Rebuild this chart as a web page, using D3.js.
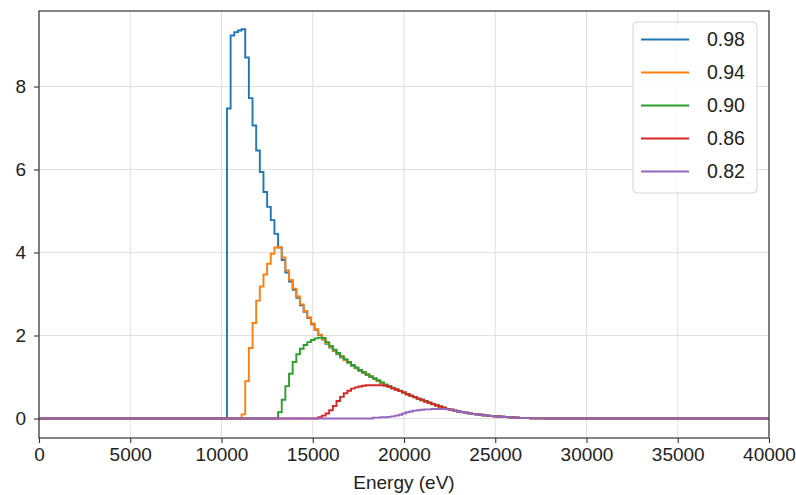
<!DOCTYPE html>
<html>
<head>
<meta charset="utf-8">
<script src="https://cdnjs.cloudflare.com/ajax/libs/d3/7.8.5/d3.min.js"></script>
<style>
  body { margin: 0; background: #fff; }
  svg text { font-family: "Liberation Sans", Arial, sans-serif; fill: #222; }
</style>
</head>
<body>
<div id="chart"></div>
<script>
// histogram bins are 200 eV wide, each series lists its non-zero bins from a start energy
const binWidth = 200;
const energyRange = [0, 40000];
const xTicks = [0, 5000, 10000, 15000, 20000, 25000, 30000, 35000, 40000];
const yTicks = [0, 2, 4, 6, 8];
const labels = ['0.98', '0.94', '0.90', '0.86', '0.82'];
const colors = ['#1f77b4', '#ff7f0e', '#2ca02c', '#d62728', '#9467bd'];
const starts = [10300, 11100, 13100, 15300, 18300];

const counts098 = [7.47, 9.23, 9.31, 9.35, 9.38, 8.70, 7.72, 7.06, 6.46, 5.94, 5.46, 5.10, 4.78, 4.45, 4.12,
  3.82, 3.52, 3.30, 3.10, 2.91, 2.73, 2.57, 2.42, 2.27, 2.14, 2.01, 1.90,
  1.80, 1.71, 1.63, 1.55, 1.47, 1.40, 1.34, 1.27, 1.21, 1.15, 1.10, 1.05, 1.00, 0.95, 0.90, 0.85, 0.80,
  0.76, 0.73, 0.69, 0.66, 0.62, 0.58, 0.54, 0.51, 0.47, 0.44, 0.41, 0.38, 0.34, 0.31, 0.28, 0.25, 0.23,
  0.21, 0.19, 0.17, 0.15, 0.14, 0.125, 0.11, 0.10, 0.09, 0.08, 0.07, 0.062, 0.055, 0.048, 0.04, 0.034,
  0.028, 0.023, 0.019, 0.015, 0.012, 0.009, 0.007, 0.005, 0.003, 0.002];
const counts094 = [0.10, 0.90, 1.70, 2.30, 2.84, 3.18, 3.47, 3.73, 3.97, 4.12, 4.13,
  3.88, 3.57, 3.34, 3.13, 2.94, 2.75, 2.59, 2.44, 2.29, 2.15, 2.02, 1.91,
  1.81, 1.72, 1.64, 1.56, 1.48, 1.41, 1.35, 1.28, 1.22, 1.16, 1.11, 1.06, 1.01, 0.96, 0.91, 0.86, 0.81,
  0.77, 0.73, 0.70, 0.66, 0.62, 0.58, 0.55, 0.51, 0.48, 0.44, 0.41, 0.38, 0.35, 0.31, 0.28, 0.26, 0.23,
  0.21, 0.19, 0.17, 0.155, 0.14, 0.125, 0.11, 0.10, 0.09, 0.08, 0.07, 0.062, 0.055, 0.048, 0.041, 0.034,
  0.028, 0.023, 0.019, 0.015, 0.012, 0.009, 0.007, 0.005, 0.003, 0.002];
const counts090 = [0.15, 0.45, 0.78, 1.08, 1.36, 1.55, 1.68, 1.77, 1.84, 1.89, 1.93, 1.95, 1.94,
  1.84, 1.75, 1.66, 1.58, 1.50, 1.43, 1.36, 1.29, 1.23, 1.17, 1.12, 1.07, 1.02, 0.97, 0.92, 0.87, 0.82,
  0.78, 0.74, 0.70, 0.67, 0.63, 0.59, 0.55, 0.52, 0.48, 0.45, 0.42, 0.38, 0.35, 0.32, 0.29, 0.26, 0.23,
  0.21, 0.19, 0.17, 0.155, 0.14, 0.125, 0.11, 0.10, 0.09, 0.08, 0.07, 0.062, 0.055, 0.048, 0.041, 0.034,
  0.028, 0.023, 0.019, 0.015, 0.012, 0.009, 0.007, 0.005, 0.003, 0.002];
const counts086 = [0.03, 0.07, 0.12, 0.20, 0.30, 0.42, 0.52, 0.61, 0.67, 0.72, 0.75, 0.77, 0.79, 0.80,
  0.80, 0.80, 0.80, 0.80, 0.79,
  0.77, 0.73, 0.70, 0.66, 0.63, 0.59, 0.55, 0.52, 0.48, 0.45, 0.41, 0.38, 0.35, 0.32, 0.29, 0.26, 0.23,
  0.21, 0.19, 0.17, 0.155, 0.14, 0.125, 0.11, 0.10, 0.09, 0.08, 0.07, 0.062, 0.055, 0.048, 0.041, 0.034,
  0.028, 0.023, 0.019, 0.015, 0.012, 0.009, 0.007, 0.005, 0.003, 0.002];
const counts082 = [0.02, 0.02, 0.03, 0.03, 0.04, 0.05, 0.07, 0.09, 0.12, 0.15, 0.17, 0.19, 0.20, 0.21,
  0.22, 0.22, 0.23, 0.23, 0.23, 0.23, 0.22, 0.21, 0.19,
  0.17, 0.155, 0.14, 0.125, 0.11, 0.10, 0.09, 0.08, 0.07, 0.062, 0.055, 0.048, 0.041, 0.034,
  0.028, 0.023, 0.019, 0.015, 0.012, 0.009, 0.007, 0.005, 0.003, 0.002];
const counts = [counts098, counts094, counts090, counts086, counts082];

const width = 796;
const height = 495;
const margin = {left: 39, right: 27, top: 11, bottom: 57};

const svg = d3.select('#chart').append('svg')
  .attr('width', width)
  .attr('height', height);

const xScale = d3.scaleLinear().domain(energyRange).range([margin.left, width - margin.right]);
const yScale = d3.scaleLinear().domain([-0.47, 9.82]).range([height - margin.bottom, margin.top]);

// GRID
const grid = svg.append('g').attr('class', 'grid');
grid.selectAll('.gx').data(xTicks).enter().append('line')
  .attr('x1', d => xScale(d)).attr('x2', d => xScale(d))
  .attr('y1', yScale.range()[0]).attr('y2', yScale.range()[1])
  .attr('stroke', '#dcdcdc').attr('stroke-width', 0.9);
grid.selectAll('.gy').data(yTicks).enter().append('line')
  .attr('x1', xScale.range()[0]).attr('x2', xScale.range()[1])
  .attr('y1', d => yScale(d)).attr('y2', d => yScale(d))
  .attr('stroke', '#dcdcdc').attr('stroke-width', 0.9);

// STEP LINES
const stepLine = d3.line().x(d => xScale(d[0])).y(d => yScale(d[1])).curve(d3.curveStepAfter);
counts.forEach((values, i) => {
  const start = starts[i];
  const pts = [[energyRange[0], 0]];
  values.forEach((v, k) => pts.push([start + k * binWidth, v]));
  pts.push([start + values.length * binWidth, 0]);
  pts.push([energyRange[1], 0]);
  svg.append('path')
    .attr('d', stepLine(pts))
    .attr('fill', 'none')
    .attr('stroke', colors[i])
    .attr('stroke-width', 1.9)
    .attr('stroke-linejoin', 'miter');
});

// AXES
const xAxis = d3.axisBottom(xScale).tickValues(xTicks).tickSize(5).tickSizeOuter(0).tickPadding(5).tickFormat(d3.format('d'));
const gx = svg.append('g').attr('transform', `translate(0,${height - margin.bottom})`).call(xAxis);
gx.select('.domain').remove();
gx.selectAll('line').attr('stroke', '#333').attr('stroke-width', 1.1);
gx.selectAll('text').attr('font-size', 19).attr('fill', '#222');

const yAxis = d3.axisLeft(yScale).tickValues(yTicks).tickSize(5).tickSizeOuter(0).tickPadding(8);
const gy = svg.append('g').attr('transform', `translate(${margin.left},0)`).call(yAxis);
gy.select('.domain').remove();
gy.selectAll('line').attr('stroke', '#333').attr('stroke-width', 1.1);
gy.selectAll('text').attr('font-size', 19).attr('fill', '#222');

// FRAME
svg.append('rect')
  .attr('x', xScale.range()[0]).attr('y', yScale.range()[1])
  .attr('width', xScale.range()[1] - xScale.range()[0])
  .attr('height', yScale.range()[0] - yScale.range()[1])
  .attr('fill', 'none').attr('stroke', '#333').attr('stroke-width', 1.2);

svg.append('text')
  .attr('x', (xScale.range()[0] + xScale.range()[1]) / 2)
  .attr('y', 489)
  .attr('text-anchor', 'middle')
  .attr('font-size', 19)
  .text('Energy (eV)');

// LEGEND
const legend = svg.append('g').attr('transform', 'translate(633,22)');
legend.append('rect')
  .attr('width', 124).attr('height', 171).attr('rx', 4)
  .attr('fill', '#fff').attr('fill-opacity', 0.8)
  .attr('stroke', '#d4d4d4').attr('stroke-width', 1);
const rows = legend.selectAll('.row').data(labels).enter().append('g')
  .attr('transform', (d, i) => `translate(0,${17.5 + i * 33})`);
rows.append('line')
  .attr('x1', 8).attr('x2', 56)
  .attr('stroke', (d, i) => colors[i]).attr('stroke-width', 1.9);
rows.append('text')
  .attr('x', 74).attr('dy', '0.35em')
  .attr('font-size', 19.5)
  .text(d => d);
</script>
</body>
</html>
